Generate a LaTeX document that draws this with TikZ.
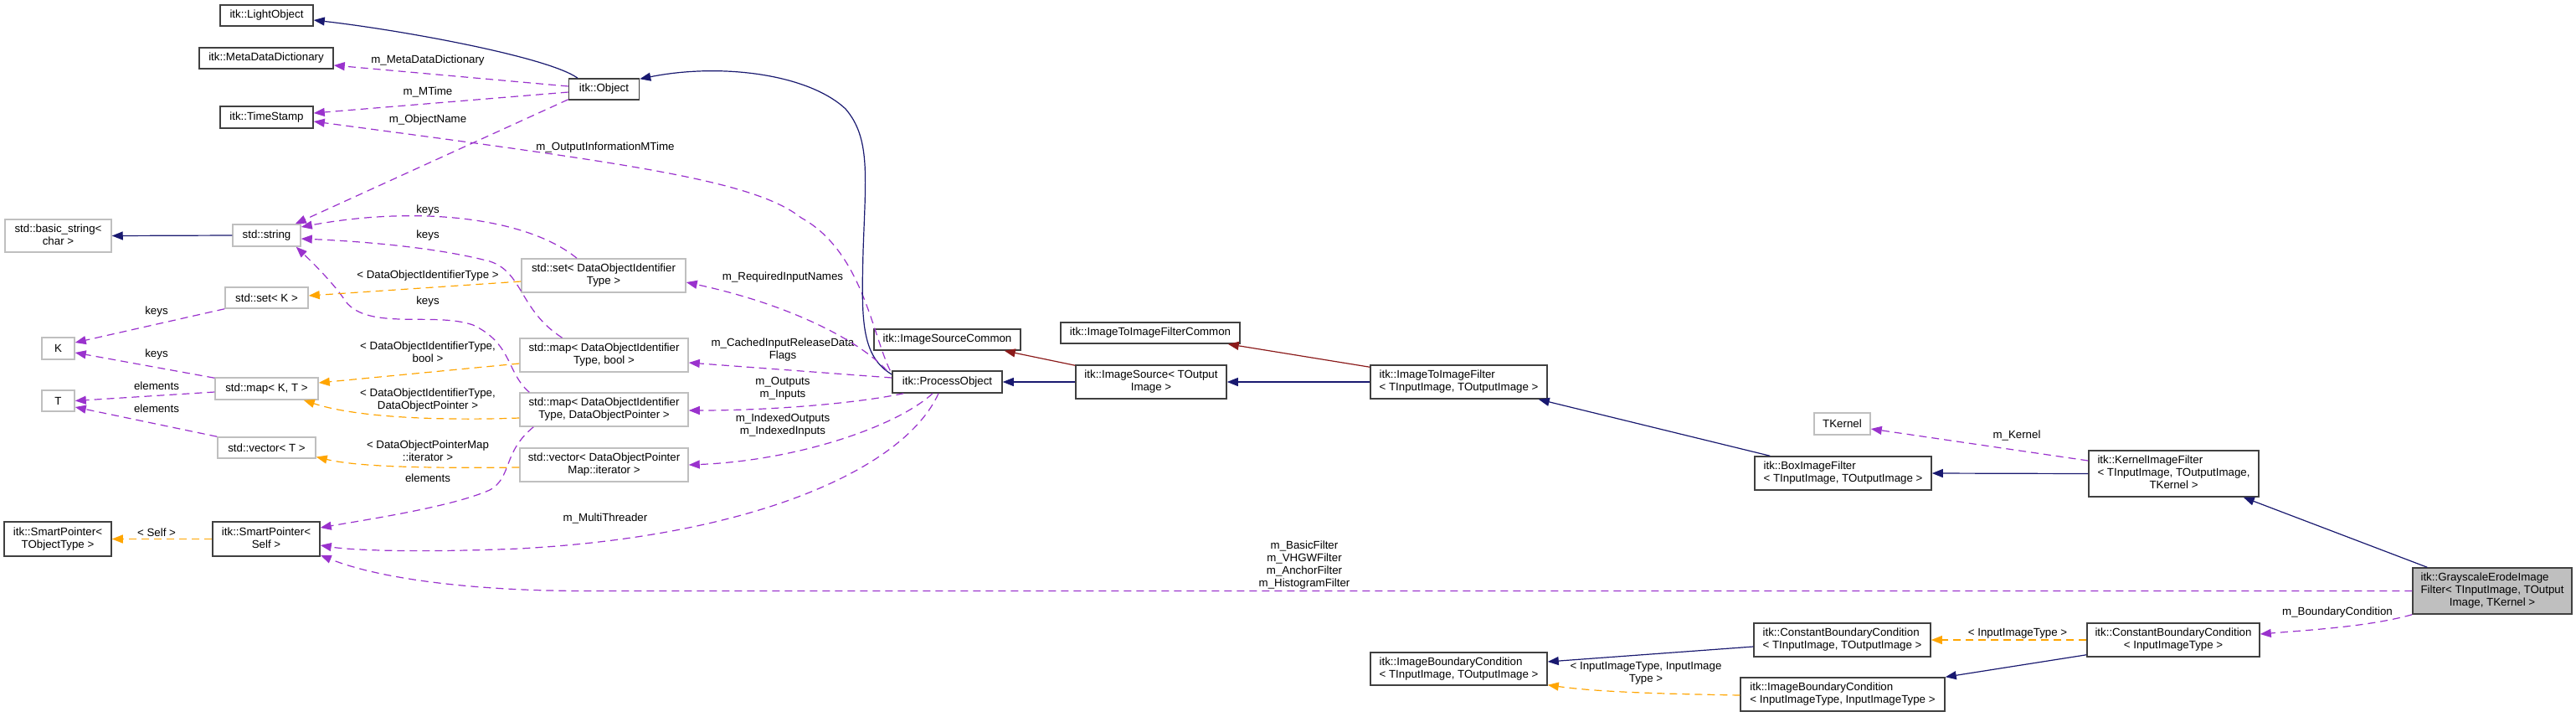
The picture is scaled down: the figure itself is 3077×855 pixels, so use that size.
\documentclass[tikz,border=0pt]{standalone}
\usepackage{fontspec}
\setmainfont{Liberation Sans}
\usetikzlibrary{arrows.meta,calc}
\definecolor{navy}{RGB}{25,25,112}
\definecolor{dred}{RGB}{139,26,26}
\definecolor{orch}{RGB}{154,50,205}
\definecolor{orng}{RGB}{255,165,0}
\definecolor{selgray}{RGB}{191,191,191}
\newcommand\twol[2]{\begin{tabular}{@{}l@{}}#1\\\multicolumn{1}{@{}c@{}}{#2}\end{tabular}}
\newcommand\threel[3]{\begin{tabular}{@{}l@{}}#1\\#2\\\multicolumn{1}{@{}c@{}}{#3}\end{tabular}}
\tikzset{
  cls/.style={rectangle, draw=black!75, line width=1.5pt, fill=white, inner sep=0pt, anchor=center},
  ext/.style={cls, draw=black!25},
  sel/.style={cls, fill=selgray},
  lbl/.style={inner sep=0pt, align=center, anchor=center},
  tip/.style={-{Triangle[length=13pt,width=10pt]}},
  inh/.style={tip, draw=navy, line width=1.2pt},
  inhr/.style={tip, draw=dred, line width=1.2pt},
  use/.style={tip, draw=orch, line width=1.2pt, dash pattern=on 9pt off 6pt},
  tmpl/.style={tip, draw=orng, line width=1.2pt, dash pattern=on 9pt off 6pt},
}
\begin{document}
\begin{tikzpicture}[x=1pt,y=-1pt,font=\fontsize{13.3pt}{15pt}\selectfont]
\useasboundingbox[fill=white] (0,0) rectangle (3077,855);
% ---------- nodes ----------
\node[cls, minimum width=111, minimum height=25] (lo) at (318.5,18.5) {itk::LightObject};
\node[cls, minimum width=160, minimum height=25] (mdd) at (318,69.5) {itk::MetaDataDictionary};
\node[cls, minimum width=111, minimum height=26] (ts) at (318.5,140) {itk::TimeStamp};
\node[cls, minimum width=84, minimum height=25] (obj) at (721.5,106.5) {itk::Object};
\node[ext, minimum width=127, minimum height=39] (bstr) at (69.5,281.5) {\twol{std::basic\_string<}{char >}};
\node[ext, minimum width=81, minimum height=26] (str) at (318.5,281) {std::string};
\node[ext, minimum width=196, minimum height=40] (setd) at (721,329) {\twol{std::set< DataObjectIdentifier}{Type >}};
\node[ext, minimum width=99, minimum height=25] (setk) at (318.5,355.5) {std::set< K >};
\node[ext, minimum width=39, minimum height=26] (K) at (69.5,416) {K};
\node[ext, minimum width=201, minimum height=40] (mapdb) at (721.5,424) {\twol{std::map< DataObjectIdentifier}{Type, bool >}};
\node[ext, minimum width=123, minimum height=26] (mapkt) at (318.5,464) {std::map< K, T >};
\node[ext, minimum width=39, minimum height=25] (T) at (69.5,478.5) {T};
\node[ext, minimum width=201, minimum height=40] (mapdp) at (721.5,489) {\twol{std::map< DataObjectIdentifier}{Type, DataObjectPointer >}};
\node[ext, minimum width=117, minimum height=25] (vect) at (318.5,534.5) {std::vector< T >};
\node[ext, minimum width=201, minimum height=40] (vecd) at (721.5,555) {\twol{std::vector< DataObjectPointer}{Map::iterator >}};
\node[cls, minimum width=128, minimum height=41] (spt) at (69,643.5) {\twol{itk::SmartPointer<}{TObjectType >}};
\node[cls, minimum width=128, minimum height=41] (sps) at (318,643.5) {\twol{itk::SmartPointer<}{Self >}};
\node[cls, minimum width=131, minimum height=26] (po) at (1131.5,456) {itk::ProcessObject};
\node[cls, minimum width=175, minimum height=25] (isc) at (1131.5,405.5) {itk::ImageSourceCommon};
\node[cls, minimum width=180, minimum height=40] (is) at (1375,456) {\twol{itk::ImageSource< TOutput}{Image >}};
\node[cls, minimum width=214, minimum height=25] (itifc) at (1374,397.5) {itk::ImageToImageFilterCommon};
\node[cls, minimum width=211, minimum height=40] (itif) at (1742.5,456) {\twol{itk::ImageToImageFilter}{< TInputImage, TOutputImage >}};
\node[cls, minimum width=211, minimum height=40] (box) at (2201.5,565) {\twol{itk::BoxImageFilter}{< TInputImage, TOutputImage >}};
\node[ext, minimum width=67, minimum height=26] (tk) at (2200.5,506) {TKernel};
\node[cls, minimum width=203, minimum height=55] (kif) at (2596.5,565.5) {\threel{itk::KernelImageFilter}{< TInputImage, TOutputImage,}{TKernel >}};
\node[sel, minimum width=190, minimum height=55] (gef) at (2977,705.5) {\threel{itk::GrayscaleErodeImage}{Filter< TInputImage, TOutput}{Image, TKernel >}};
\node[cls, minimum width=211, minimum height=40] (cbct) at (2200.5,764) {\twol{itk::ConstantBoundaryCondition}{< TInputImage, TOutputImage >}};
\node[cls, minimum width=206, minimum height=40] (cbci) at (2596,764) {\twol{itk::ConstantBoundaryCondition}{< InputImageType >}};
\node[cls, minimum width=211, minimum height=39] (ibct) at (1742.5,798.5) {\twol{itk::ImageBoundaryCondition}{< TInputImage, TOutputImage >}};
\node[cls, minimum width=244, minimum height=40] (ibci) at (2201,829) {\twol{itk::ImageBoundaryCondition}{< InputImageType, InputImageType >}};
% ---------- edge labels ----------
\node[lbl] (l1) at (511,72) {m\_MetaDataDictionary};
\node[lbl] (l2) at (511,110) {m\_MTime};
\node[lbl] (l3) at (511,143) {m\_ObjectName};
\node[lbl] (l4) at (723,176) {m\_OutputInformationMTime};
\node[lbl] (l5) at (511,251) {keys};
\node[lbl] (l6) at (511,281) {keys};
\node[lbl] (l7) at (511,329) {< DataObjectIdentifierType >};
\node[lbl] (l8) at (511,360) {keys};
\node[lbl] (l9) at (511,420) {< DataObjectIdentifierType,\\bool >};
\node[lbl] (l10) at (511,478) {< DataObjectIdentifierType,\\DataObjectPointer >};
\node[lbl] (l11) at (511,538) {< DataObjectPointerMap\\::iterator >};
\node[lbl] (l12) at (511,571) {elements};
\node[lbl] (l13) at (935,331) {m\_RequiredInputNames};
\node[lbl] (l14) at (935,418) {m\_CachedInputReleaseData\\Flags};
\node[lbl] (l15) at (935,464) {m\_Outputs\\m\_Inputs};
\node[lbl] (l16) at (935,508) {m\_IndexedOutputs\\m\_IndexedInputs};
\node[lbl] (l17) at (723,619) {m\_MultiThreader};
\node[lbl] (l18) at (187,372) {keys};
\node[lbl] (l19) at (187,423) {keys};
\node[lbl] (l20) at (187,461) {elements};
\node[lbl] (l21) at (187,488) {elements};
\node[lbl] (l22) at (187,636) {< Self >};
\node[lbl] (l23) at (1558,675) {m\_BasicFilter\\m\_VHGWFilter\\m\_AnchorFilter\\m\_HistogramFilter};
\node[lbl] (l24) at (2409,520) {m\_Kernel};
\node[lbl] (l25) at (2792,731) {m\_BoundaryCondition};
\node[lbl] (l26) at (2410,756) {< InputImageType >};
\node[lbl] (l27) at (1966,804) {< InputImageType, InputImage\\Type >};
% ---------- connectors ----------
% itk::Object
\draw[inh] ($(obj.north)+(-31.5,0)$) .. controls (655,68) and (480,36) .. ($(lo.east)+(0,5.5)$);
\draw[use] ($(obj.west)+(0,-3.5)$) -- ($(mdd.east)+(0,8.5)$);
\draw[use] ($(obj.west)+(0,3.5)$) -- ($(ts.east)+(0,-5)$);
\draw[use] ($(obj.south west)+(0,-1)$) -- ($(str.north east)+(-7,0)$);
% itk::ProcessObject
\draw[use] ($(po.north west)+(-2,0)$) .. controls (1042,400) and (1030,300) .. (957,260)
  .. controls (900,215) and (750,195) .. ($(ts.east)+(0,5)$);
\draw[inh] ($(po.west)+(0,-9)$) .. controls (1028,425) and (1029,380) .. (1031,300)
  .. controls (1034,210) and (1040,165) .. (1010,130)
  .. controls (965,88) and (860,75) .. ($(obj.north east)+(0,1)$);
\draw[use] ($(po.north west)+(-6,0)$) .. controls (1030,410) and (950,365) .. ($(setd.east)+(0,8)$);
\draw[use] ($(po.west)+(0,-5)$) -- ($(mapdb.east)+(0,9)$);
\draw[use] ($(po.south west)+(14,0)$) .. controls (1020,482) and (920,490) .. ($(mapdp.east)+(0,1)$);
\draw[use] ($(po.south)+(-17.5,0)$) .. controls (1070,510) and (950,550) .. (vecd.east);
\draw[use] ($(po.south)+(-10.5,0)$) .. controls (1080,560) and (900,640) .. (620,655)
  .. controls (500,660) and (420,657) .. ($(sps.east)+(0,7.5)$);
% std containers
\draw[use] ($(setd.north)+(-32,0)$) .. controls (630,260) and (500,245) .. ($(str.east)+(0,-10)$);
\draw[use] ($(mapdb.north)+(-50,0)$) .. controls (620,370) and (625,325) .. (585,312)
  .. controls (520,295) and (430,288) .. ($(str.east)+(0,4)$);
\draw[use] ($(mapdp.north west)+(12,0)$) .. controls (605,445) and (612,410) .. (565,388)
  .. controls (520,372) and (440,395) .. (413,360)
  .. controls (400,340) and (375,315) .. ($(str.south east)+(-6,0)$);
\draw[use] ($(mapdp.south west)+(17,0)$) .. controls (600,540) and (612,570) .. (585,585)
  .. controls (540,605) and (440,620) .. ($(sps.east)+(0,-13.5)$);
\draw[tmpl] ($(setd.west)+(0,7)$) -- ($(setk.east)+(0,-2.5)$);
\draw[tmpl] ($(mapdb.west)+(0,10)$) -- ($(mapkt.east)+(0,-7)$);
\draw[tmpl] ($(mapdp.west)+(0,10)$) .. controls (540,502) and (430,500) .. ($(mapkt.south east)+(-18,0)$);
\draw[tmpl] ($(vecd.west)+(0,3)$) .. controls (520,559) and (430,558) .. ($(vect.east)+(0,11)$);
\draw[use] (setk.south west) -- ($(K.east)+(0,-7)$);
\draw[use] ($(mapkt.north west)+(0,1)$) -- ($(K.east)+(0,5)$);
\draw[use] ($(mapkt.west)+(0,4)$) -- (T.east);
\draw[use] (vect.north west) -- ($(T.east)+(0,7.5)$);
\draw[inh] (str.west) -- (bstr.east);
\draw[tmpl] (sps.west) -- (spt.east);
% image filters
\draw[inhr] ($(is.north west)+(0,1)$) -- ($(isc.south east)+(-20,0)$);
\draw[inh] (is.west) -- (po.east);
\draw[inhr] ($(itif.north west)+(0,3)$) -- ($(itifc.south east)+(-15,0)$);
\draw[inh] (itif.west) -- (is.east);
\draw[inh] ($(box.north west)+(19,0)$) -- ($(itif.south east)+(-11,0)$);
\draw[inh] (kif.west) -- (box.east);
\draw[use] ($(kif.west)+(0,-15.5)$) -- ($(tk.east)+(0,6)$);
\draw[inh] ($(gef.north west)+(18,0)$) -- ($(kif.south east)+(-19,0)$);
\draw[use] (gef.west) -- (700,705.5) .. controls (560,705.5) and (450,690) .. ($(sps.south east)+(0,-2)$);
\draw[use] (gef.south west) .. controls (2830,748) and (2760,752) .. ($(cbci.east)+(0,-7)$);
\draw[tmpl] (cbci.west) -- (cbct.east);
\draw[inh] ($(cbci.south west)+(0,-3)$) -- (ibci.north east);
\draw[inh] ($(cbct.west)+(0,8)$) -- ($(ibct.east)+(0,-8.5)$);
\draw[tmpl] ($(ibci.west)+(0,1)$) .. controls (1960,828) and (1900,825) .. ($(ibct.south east)+(0,-1)$);
\end{tikzpicture}
\end{document}
